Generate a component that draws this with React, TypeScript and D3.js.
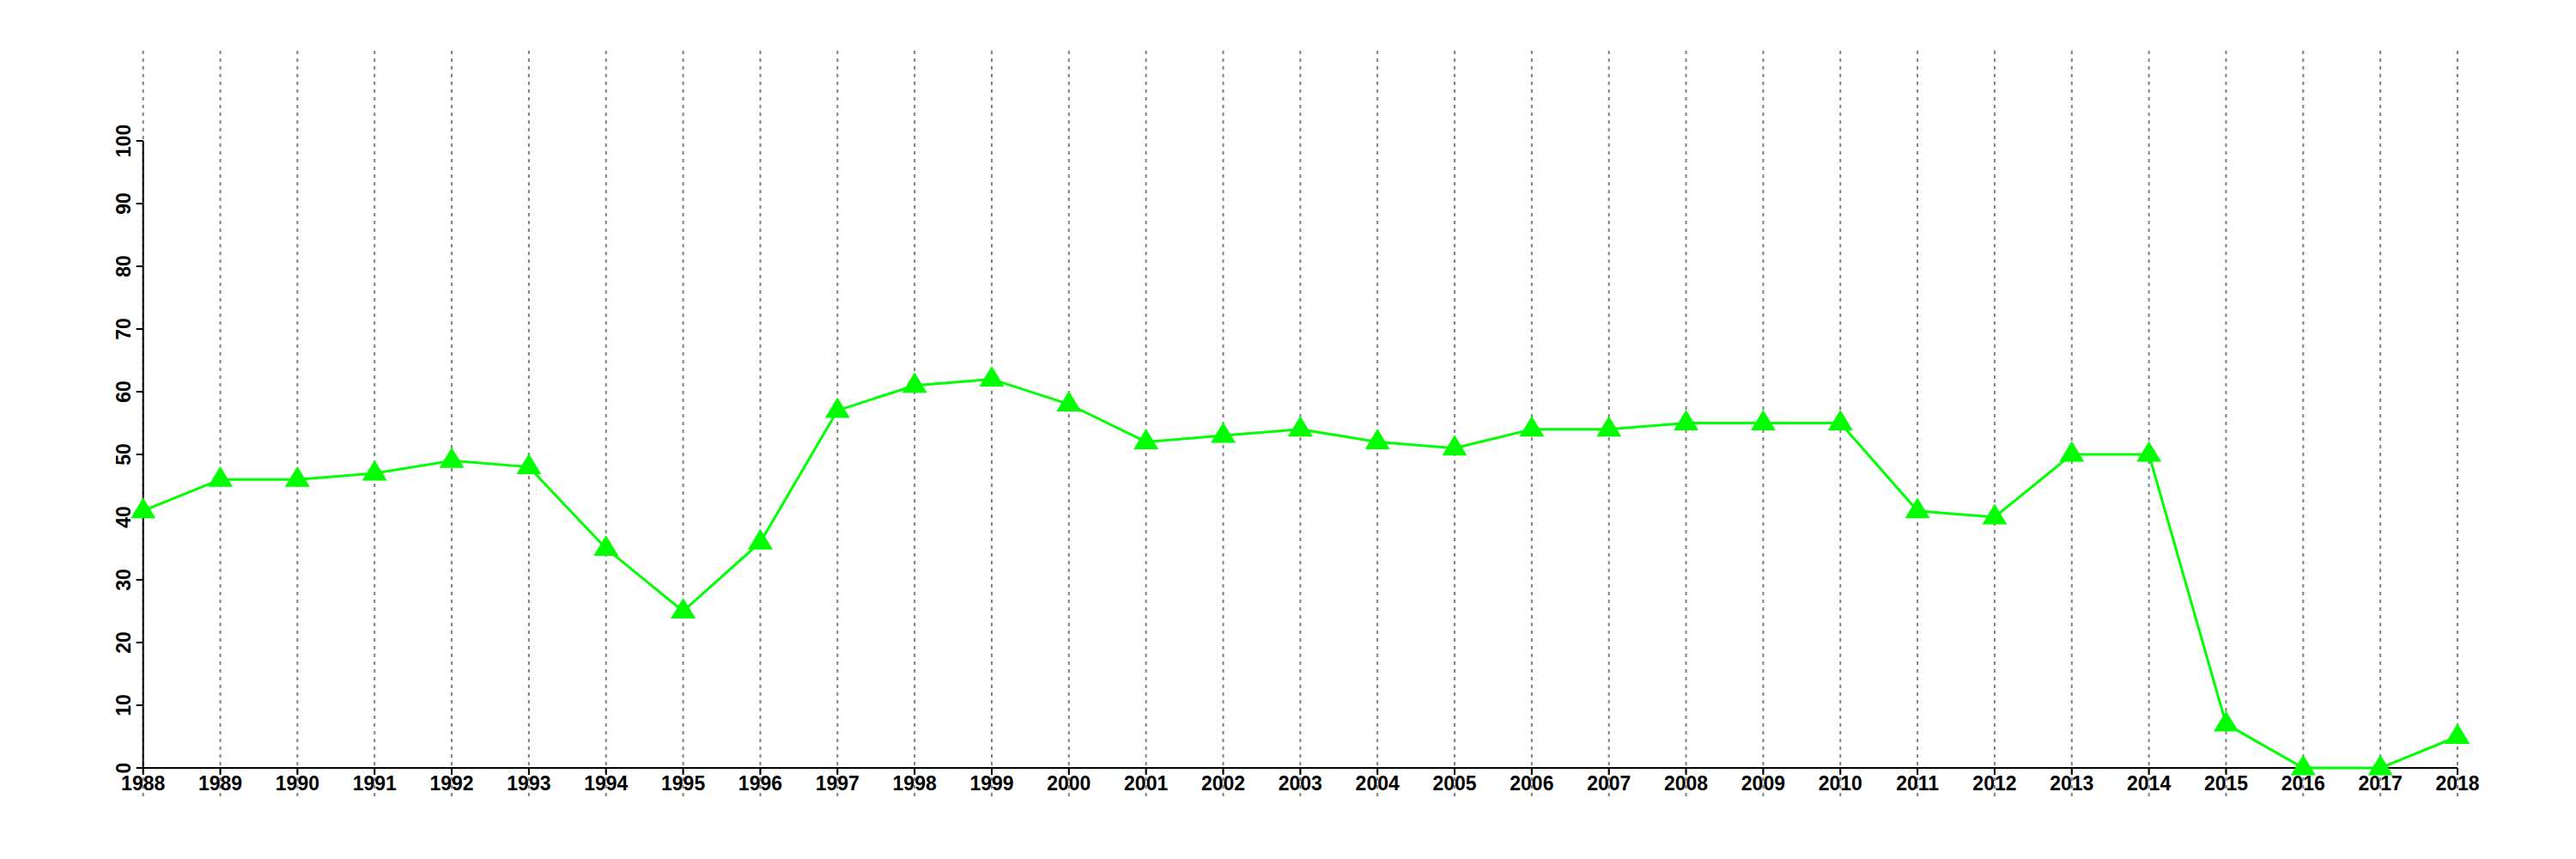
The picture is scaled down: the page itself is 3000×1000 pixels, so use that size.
import React from "react";
import * as d3 from "d3";

const years: number[] = [1988, 1989, 1990, 1991, 1992, 1993, 1994, 1995, 1996, 1997, 1998, 1999, 2000, 2001, 2002, 2003, 2004, 2005, 2006, 2007, 2008, 2009, 2010, 2011, 2012, 2013, 2014, 2015, 2016, 2017, 2018];
const values: number[] = [41, 46, 46, 47, 49, 48, 35, 25, 36, 57, 61, 62, 58, 52, 53, 54, 52, 51, 54, 54, 55, 55, 55, 41, 40, 50, 50, 7, 0, 0, 5];
const yTicks: number[] = [0, 10, 20, 30, 40, 50, 60, 70, 80, 90, 100];

const W = 3000;
const H = 1000;

export default function App() {
  const x = d3.scaleLinear().domain([1988, 2018]).range([166.7, 2862]);
  const y = d3.scaleLinear().domain([0, 100]).range([894, 164]);
  const line = d3
    .line<number>()
    .x((_, i) => x(years[i]))
    .y((d) => y(d));
  const font = "'Liberation Sans', Arial, Helvetica, sans-serif";
  const tri = (cx: number, cy: number) =>
    `M${cx},${cy - 15.5} L${cx + 14.5},${cy + 8.5} L${cx - 14.5},${cy + 8.5} Z`;

  return (
    <svg
      width={W}
      height={H}
      style={{ position: "absolute", left: 0, top: 0, background: "#fff" }}
    >
      <rect x={0} y={0} width={W} height={H} fill="#fff" />
      {years.map((yr) => (
        <line
          key={"g" + yr}
          x1={x(yr)}
          x2={x(yr)}
          y1={59}
          y2={927}
          stroke="#808080"
          strokeWidth={2}
          strokeDasharray="4,5"
        />
      ))}
      {/* y axis */}
      <line x1={x(1988)} x2={x(1988)} y1={y(0)} y2={y(100)} stroke="#000" strokeWidth={2} />
      {yTicks.map((t) => (
        <g key={"y" + t}>
          <line x1={x(1988) - 8} x2={x(1988)} y1={y(t)} y2={y(t)} stroke="#000" strokeWidth={2} />
          <text
            transform={`translate(151.5,${y(t)}) rotate(-90)`}
            textAnchor="middle"
            fontFamily={font}
            fontWeight="bold"
            fontSize={23}
            fill="#000"
          >
            {t}
          </text>
        </g>
      ))}
      {/* x axis */}
      <line x1={x(1988)} x2={x(2018)} y1={y(0)} y2={y(0)} stroke="#000" strokeWidth={2} />
      {years.map((yr) => (
        <g key={"x" + yr}>
          <line x1={x(yr)} x2={x(yr)} y1={y(0)} y2={y(0) + 8} stroke="#000" strokeWidth={2} />
          <text
            x={x(yr)}
            y={920}
            textAnchor="middle"
            fontFamily={font}
            fontWeight="bold"
            fontSize={23}
            fill="#000"
          >
            {yr}
          </text>
        </g>
      ))}
      <path d={line(values) || ""} fill="none" stroke="#00ff00" strokeWidth={3} />
      {values.map((v, i) => (
        <path key={"p" + i} d={tri(x(years[i]), y(v))} fill="#00ff00" />
      ))}
    </svg>
  );
}
